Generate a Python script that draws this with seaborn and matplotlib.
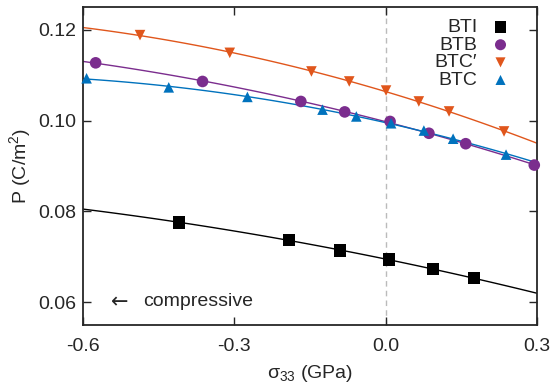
import numpy as np
import pandas as pd
import matplotlib
matplotlib.use("Agg")
import matplotlib.pyplot as plt
import seaborn as sns

# stress (GPa) and polarization (C/m^2)
bti_x = [-0.410, -0.192, -0.090, 0.007, 0.094, 0.175]
bti_y = [0.0776, 0.0737, 0.0714, 0.0694, 0.0673, 0.0653]

btb_x = [-0.575, -0.363, -0.168, -0.081, 0.009, 0.086, 0.159, 0.295]
btb_y = [0.1127, 0.1086, 0.1042, 0.1019, 0.0998, 0.0972, 0.0949, 0.0902]

btcp_x = [-0.487, -0.309, -0.147, -0.072, 0.001, 0.066, 0.126, 0.235]
btcp_y = [0.1188, 0.1149, 0.1108, 0.1086, 0.1066, 0.1042, 0.1020, 0.0976]

btc_x = [-0.593, -0.430, -0.274, -0.125, -0.058, 0.011, 0.076, 0.134, 0.239]
btc_y = [0.1093, 0.1073, 0.1052, 0.1024, 0.1009, 0.0994, 0.0978, 0.0960, 0.0925]

labels = ["BTI", "BTB", "BTC\u2032", "BTC"]
colors = ["black", "#7B2D8E", "#E0561C", "#0072BD"]
markers = ["s", "o", "v", "^"]
sizes = [80, 70, 58, 58]

sns.set_style("ticks")
plt.rcParams["font.family"] = ["Liberation Sans", "DejaVu Sans"]
plt.rcParams["mathtext.default"] = "regular"

fig = plt.figure(figsize=(5.5, 3.86), dpi=100)
ax = fig.add_axes([0.151, 0.158, 0.825, 0.824])

ax.axvline(0.0, color="#bbbbbb", ls=(0, (4, 3)), lw=1, zorder=0)

series = [(bti_x, bti_y), (btb_x, btb_y), (btcp_x, btcp_y), (btc_x, btc_y)]
xs = np.linspace(-0.6, 0.3, 100)
for (x, y), lab, c, m, s in zip(series, labels, colors, markers, sizes):
    df = pd.DataFrame({"x": x, "y": y})
    # quadratic fit line through the points
    coef = np.polyfit(df["x"], df["y"], 2)
    fit = pd.DataFrame({"x": xs, "y": np.polyval(coef, xs)})
    sns.lineplot(data=fit, x="x", y="y", color=c, lw=1, ax=ax, zorder=2)
    sns.scatterplot(data=df, x="x", y="y", color=c, marker=m, s=s,
                    edgecolor="none", label=lab, ax=ax, zorder=3, clip_on=False)

ax.set_xlim(-0.6, 0.3)
ax.set_ylim(0.055, 0.125)
ax.set_xticks([-0.6, -0.3, 0.0, 0.3])
ax.set_xticklabels(["-0.6", "-0.3", "0.0", "0.3"])
ax.set_yticks([0.06, 0.08, 0.10, 0.12])
ax.set_yticklabels(["0.06", "0.08", "0.10", "0.12"])
ax.tick_params(direction="in", length=6, width=1, top=True, right=True,
               labelsize=14, pad=5)
ax.tick_params(axis="x", pad=9)
for sp in ax.spines.values():
    sp.set_linewidth(1.3)

ax.set_xlabel("σ$_{33}$ (GPa)", fontsize=14, labelpad=6)
ax.set_ylabel("P (C/m$^2$)", fontsize=14, labelpad=4)

ax.text(-0.545, 0.0600, "\u2190", fontsize=15, va="center", ha="left",
        family="DejaVu Sans")
ax.text(-0.48, 0.0602, "compressive", fontsize=14, va="center", ha="left")

leg = ax.legend(loc="upper right", bbox_to_anchor=(0.98, 1.0),
                markerfirst=False, frameon=False,
                fontsize=14, handletextpad=0.4, labelspacing=0.0,
                borderaxespad=0.2, handlelength=1.6, markerscale=0.95)

fig.savefig("out.png", dpi=100)
